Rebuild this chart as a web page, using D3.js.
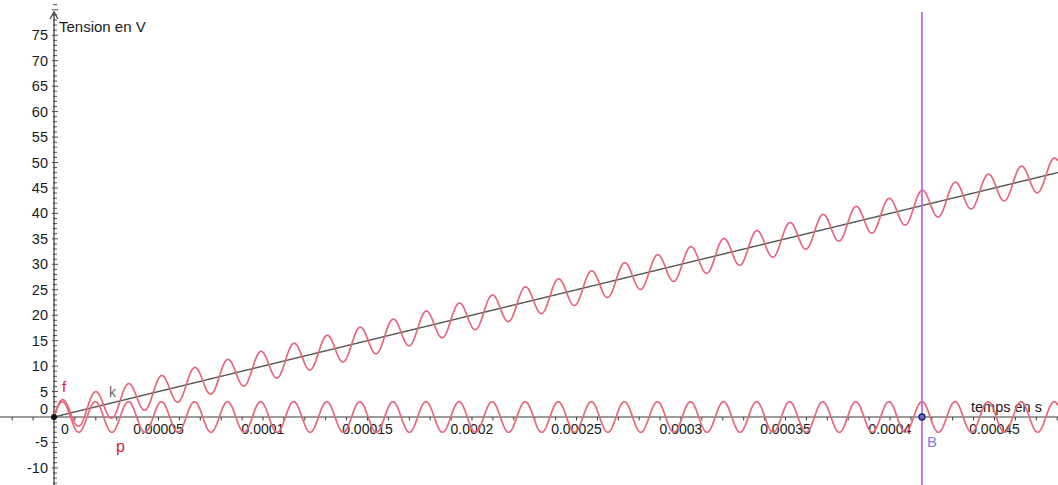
<!DOCTYPE html>
<html>
<head>
<meta charset="utf-8">
<script src="https://cdn.jsdelivr.net/npm/d3@7"></script>
<style>
  html, body { margin: 0; padding: 0; background: #fff; }
  svg { display: block; font-family: "Liberation Sans", Arial, sans-serif; }
</style>
</head>
<body>
<svg id="chart" width="1058" height="485"></svg>
<script>
// ---- data ----
const yTickValues = [-10, -5, 0, 5, 10, 15, 20, 25, 30, 35, 40, 45, 50, 55, 60, 65, 70, 75];
const xTickValues = [0, 0.00005, 0.0001, 0.00015, 0.0002, 0.00025, 0.0003, 0.00035, 0.0004, 0.00045];
const xTickLabels = ["0", "0.00005", "0.0001", "0.00015", "0.0002", "0.00025", "0.0003", "0.00035", "0.0004", "0.00045"];
const functionNames = ["f", "p", "k"];
const kSlope = [100000];        // k(t) = slope * t   (V per s)
const pAmplitude = [3];         // p(t) amplitude (V)
const pPeriod = [1.582e-5];     // p(t) period (s)
const pointBTime = [0.0004153]; // abscissa of point B (s)
const axisTitles = ["Tension en V", "temps en s"];

// ---- layout ----
const W = 1058, H = 485;
const pxPerSec = 104.5 / 0.00005;
const pxPerVolt = 5.09;
const x0 = 54, y0 = 417;
const x = d3.scaleLinear().domain([-x0 / pxPerSec, (W - x0) / pxPerSec]).range([0, W]);
const y = d3.scaleLinear().domain([-(H - y0) / pxPerVolt, y0 / pxPerVolt]).range([H, 0]);

const svg = d3.select("#chart");
const axisColor = "#3a3a3a";
const textColor = "#1a1a1a";
const curveColor = "#e6687a";

// minor ticks
const xMinor = d3.range(-2, 49).map(i => i * 0.00001);
const yMinor = d3.range(-13, 82).map(i => i);

// X axis
const gx = svg.append("g").attr("transform", `translate(0,${y(0)})`);
gx.append("line").attr("x1", 0).attr("x2", W).attr("y1", 0).attr("y2", 0)
  .attr("stroke", axisColor).attr("stroke-width", 1.2);
gx.selectAll("line.minor").data(xMinor).join("line").attr("class", "minor")
  .attr("x1", d => x(d)).attr("x2", d => x(d)).attr("y1", 0).attr("y2", 3.5)
  .attr("stroke", axisColor).attr("stroke-width", 1);
gx.selectAll("text.lab").data(xTickValues).join("text").attr("class", "lab")
  .attr("x", (d, i) => i === 0 ? x(d) + 11 : x(d))
  .attr("y", 17)
  .attr("text-anchor", "middle")
  .attr("font-size", 14).attr("fill", textColor)
  .text((d, i) => xTickLabels[i]);

// Y axis
const gy = svg.append("g").attr("transform", `translate(${x(0)},0)`);
gy.append("line").attr("x1", 0).attr("x2", 0).attr("y1", H).attr("y2", 12)
  .attr("stroke", axisColor).attr("stroke-width", 1.2);
gy.append("path").attr("d", "M-4,19 L0,12 L4,19").attr("fill", "none")
  .attr("stroke", axisColor).attr("stroke-width", 1.2);
gy.selectAll("line.minor").data(yMinor).join("line").attr("class", "minor")
  .attr("x1", d => d % 5 === 0 ? -2 : -1).attr("x2", d => d % 5 === 0 ? 4 : 3)
  .attr("y1", d => y(d)).attr("y2", d => y(d))
  .attr("stroke", axisColor).attr("stroke-width", 0.9);
gy.selectAll("text.lab").data(yTickValues).join("text").attr("class", "lab")
  .attr("x", -6)
  .attr("y", d => d === 0 ? y(d) - 3 : y(d) + 5)
  .attr("text-anchor", "end")
  .attr("font-size", 14.5).attr("fill", textColor)
  .text(d => d);

// axis titles
svg.append("text").attr("x", x(0) + 5).attr("y", 32).attr("font-size", 15).attr("fill", textColor)
  .text(axisTitles[0]);
svg.append("text").attr("x", 971).attr("y", 412).attr("font-size", 14.5).attr("fill", textColor)
  .text(axisTitles[1]);

// functions
const tDomain = x.domain();
const ts = d3.range(0, 3001).map(i => tDomain[0] + (tDomain[1] - tDomain[0]) * i / 3000).filter(t => t >= 0);
const k = t => kSlope[0] * t;
const p = t => pAmplitude[0] * Math.sin(2 * Math.PI * t / pPeriod[0]);
const f = t => k(t) + p(t);
const line = fn => d3.line().x(t => x(t)).y(t => y(fn(t)))(ts);

svg.append("path").attr("d", line(k)).attr("fill", "none").attr("stroke", "#555").attr("stroke-width", 1.4);
svg.append("path").attr("d", line(p)).attr("fill", "none").attr("stroke", curveColor).attr("stroke-width", 1.7);
svg.append("path").attr("d", line(f)).attr("fill", "none").attr("stroke", curveColor).attr("stroke-width", 1.7);

// vertical line through B
svg.append("line").attr("x1", x(pointBTime[0])).attr("x2", x(pointBTime[0]))
  .attr("y1", 12).attr("y2", H).attr("stroke", "#b86ee0").attr("stroke-width", 1.8);

// points
svg.append("circle").attr("cx", x(0)).attr("cy", y(0)).attr("r", 3).attr("fill", "#111");
svg.append("circle").attr("cx", x(pointBTime[0])).attr("cy", y(0)).attr("r", 3)
  .attr("fill", "#6a6ad8").attr("stroke", "#1f1f70").attr("stroke-width", 1.3);

// function / point labels
svg.append("text").attr("x", 62).attr("y", 392).attr("font-size", 15).attr("fill", "#e0202e").text(functionNames[0]);
svg.append("text").attr("x", 116).attr("y", 452).attr("font-size", 16).attr("fill", "#e0202e").text(functionNames[1]);
svg.append("text").attr("x", 109).attr("y", 397).attr("font-size", 14).attr("fill", "#666").text(functionNames[2]);
svg.append("text").attr("x", 927).attr("y", 447).attr("font-size", 15).attr("fill", "#7c7cf0").text("B");
</script>
</body>
</html>
